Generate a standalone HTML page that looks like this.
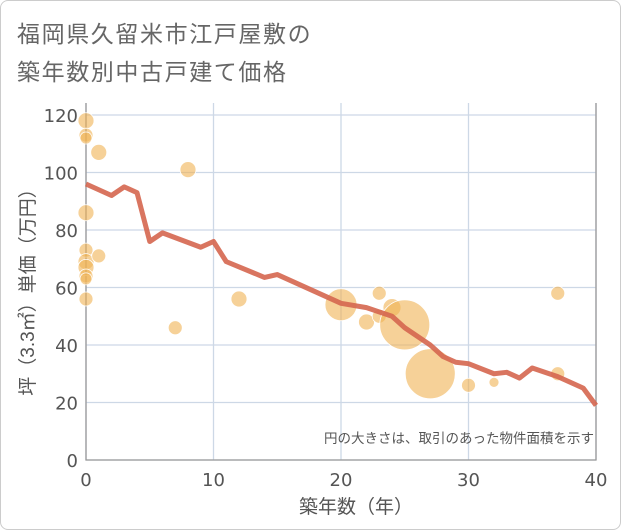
<!DOCTYPE html>
<html><head><meta charset="utf-8"><style>
body{margin:0;background:#fff;}
#c{position:relative;width:621px;height:530px;font-family:"Liberation Sans","Noto Sans CJK JP",sans-serif;}
#frame{position:absolute;left:0;top:0;width:619px;height:528px;border:1px solid #ccc;border-radius:8px;}
.title{position:absolute;left:17px;font-size:23px;color:#666;letter-spacing:1.6px}
</style></head><body>
<div id="c">
<div id="frame"></div>
<div class="title" style="top:15px">福岡県久留米市江戸屋敷の</div>
<div class="title" style="top:53px">築年数別中古戸建て価格</div>
<svg id="s" width="621" height="530" style="position:absolute;left:0;top:0"></svg>
</div>
<script>
const xTicks=[0,10,20,30,40];
const yTicks=[0,20,40,60,80,100,120];
const lineX=[0,2,3,4,5,6,9,10,11,14,15,20,22,24,25,27,28,29,30,32,33,34,35,37,39,40];
const lineY=[96,92,95,93,76,79,74,76,69,63.5,64.5,54.5,53,50,46,40,36,34,33.5,30,30.5,28.5,32,29,25,19];
const bubX=[0,0,0,1,8,0,0,0,0,1,0,0,0,7,12,20,22,23,23,24,25,27,30,32,37,37];
const bubY=[118,113,112,107,101,86,73,69,67,71,64,63,56,46,56,54,48,58,50,53,47,30,26,27,58,30];
const bubR=[8,7,6,8,8,8,7,8,8,7,7,6,7,7,8,16,8,7,7,9,25,25,7,5,7,7];
const NS='http://www.w3.org/2000/svg',s=document.getElementById('s');
const X0=86,X1=596,Y0=460,Y1=115;
const xs=v=>X0+(X1-X0)*v/40, ys=v=>Y0-(Y0-Y1)*v/120;
function mk(t,a,p){const e=document.createElementNS(NS,t);for(const k in a)e.setAttribute(k,a[k]);(p||s).appendChild(e);return e;}
const grid=mk('g',{});


const TF='"DejaVu Sans","Liberation Sans",sans-serif';
yTicks.forEach(v=>{
 const l=mk('line',{x1:X0,x2:X1,y1:ys(v),y2:ys(v),stroke:'#cdd8e6','stroke-width':1.3},grid);
 
 
 const t=mk('text',{x:X0-8,y:ys(v)+7,'text-anchor':'end','font-size':18,fill:'#555','font-family':TF});
 t.textContent=v;
 
 
});
xTicks.forEach(v=>{
 const l=mk('line',{x1:xs(v),x2:xs(v),y1:Y1-12,y2:Y0,stroke:'#cdd8e6','stroke-width':1.3},grid);
 
 
 const t=mk('text',{x:xs(v),y:Y0+26,'text-anchor':'middle','font-size':18,fill:'#555','font-family':TF});
 t.textContent=v;
 
 
});
const ax=mk('path',{d:`M${X0},${Y1-12}V${Y0}H${X1}V${Y1-12}`,fill:'none',stroke:'#999','stroke-width':1.3});


bubX.forEach((v,i)=>{
 const c=mk('circle',{cx:xs(v),cy:ys(bubY[i]),r:bubR[i],fill:'#f0b354','fill-opacity':0.6,stroke:'#fff','stroke-width':0.8});
 
 
});
const ln=mk('polyline',{points:lineX.map((v,i)=>xs(v)+','+ys(lineY[i])).join(' '),fill:'none',stroke:'#d5664f','stroke-width':5,'stroke-linejoin':'round','stroke-opacity':0.9});


const note=mk('text',{x:X1-2,y:443,'text-anchor':'end','font-size':13.5,fill:'#555'});
note.textContent='円の大きさは、取引のあった物件面積を示す';


const xt=mk('text',{x:356,y:513,'text-anchor':'middle','font-size':19,fill:'#555'});
xt.textContent='築年数（年）';


const yt=mk('text',{x:0,y:0,'text-anchor':'middle','font-size':19,fill:'#555',transform:`translate(34,${(Y0+Y1)/2}) rotate(-90)`});
yt.textContent='坪（3.3㎡）単価（万円）';


</script>
</body></html>
